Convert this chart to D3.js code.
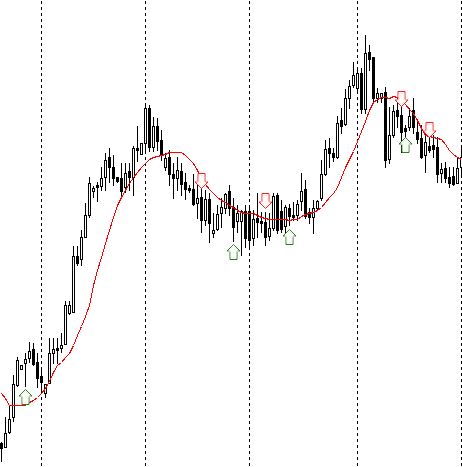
<!DOCTYPE html>
<html lang="en">
  <head>
    <meta charset="utf-8">
    <title>Candles</title>
    <script src="https://d3js.org/d3.v7.min.js"></script>
    <style type="text/css">
    html, body { margin: 0; padding: 0; background: #fff; overflow: hidden; }
    svg { display: block; }
    </style>
  </head>
  <body>
    <svg id="chart" width="462" height="467"></svg>

<script>
// candle values, oldest first
var opens = [24,20,35,50,82,98,104,109,118,105,
  91,74,84,114,119,119,123,154,155,211,
  208,230,252,276,282,281,290,310,300,290,
  289,280,296,290,319,313,324,359,320,341,
  327,300,310,293,289,296,285,279,278,264,
  270,247,268,234,238,254,259,276,260,246,
  246,256,256,229,249,246,245,231,239,272,
  256,241,259,252,252,266,278,255,250,259,
  269,293,319,314,310,347,343,369,382,379,
  394,358,415,410,369,369,375,308,332,357,
  352,339,340,357,335,329,312,321,322,320,
  294,299,290,291,284,300];
var closes = [19,34,48,83,107,102,108,116,103,89,
  85,83,114,118,117,122,162,162,211,204,
  230,252,284,279,280,289,307,300,289,286,
  276,294,290,319,317,324,359,320,341,326,
  312,309,293,289,297,283,278,277,263,269,
  247,268,244,237,253,260,273,259,240,254,
  256,229,227,248,245,244,230,239,271,237,
  238,260,251,250,263,276,251,250,259,266,
  293,318,314,310,344,341,369,381,392,394,
  358,414,408,369,374,374,307,332,356,351,
  335,336,351,340,328,310,325,317,318,293,
  298,289,284,283,299,310];
var highs = [25,50,62,92,110,102,114,125,124,114,
  100,83,129,129,129,134,166,166,221,221,
  237,264,290,281,285,300,314,319,312,290,
  304,304,304,321,341,324,363,362,350,349,
  337,314,317,304,310,304,294,282,293,282,
  284,277,274,254,262,269,274,282,269,262,
  257,262,262,257,274,255,255,254,274,274,
  267,262,263,265,267,294,287,259,267,267,
  307,327,329,319,351,359,378,387,405,399,
  399,432,422,410,379,374,380,360,362,369,
  365,342,359,369,345,342,334,334,332,330,
  304,305,300,300,309,322];
var lows = [6,20,34,46,81,98,81,105,102,80,
  74,70,84,104,104,115,123,153,155,202,
  202,230,250,270,266,277,277,285,282,285,
  272,275,277,272,306,313,317,316,316,317,
  307,297,282,269,277,272,268,275,262,249,
  235,242,225,230,237,240,254,252,226,235,
  212,220,220,222,230,235,222,227,237,234,
  235,232,242,247,247,257,249,244,234,257,
  267,292,300,306,309,334,342,359,380,377,
  354,354,397,365,365,365,300,304,330,340,
  315,325,337,334,324,309,295,315,310,285,
  285,285,280,282,284,290];

// red moving average, one value per candle
var average = [74,69,62,62,62,62,62,65,67,70,
  74,79,86,95,102,105,110,114,122,132,
  141,151,162,182,197,210,224,237,250,262,
  270,277,284,290,295,300,304,308,310,311,
  312,313,315,315,315,315,312,308,304,297,
  289,283,278,274,270,267,265,262,260,257,
  255,254,254,254,252,250,249,248,248,248,
  248,248,247,248,248,251,253,254,255,257,
  260,265,270,274,280,290,300,308,316,326,
  336,346,357,365,368,370,370,369,371,370,
  368,363,358,354,347,339,332,331,330,329,
  328,323,317,313,310,308];

// candles where a period separator falls
var separators = [10,36,62,89,115];

// signal arrows: candle index and level of the arrow tip
var buyIndex = [6,58,72,101];
var buyLevel = [78,223,238,330];
var sellIndex = [50,66,100,107];
var sellLevel = [279,259,361,330];

var width = 462, height = 467;
var svg = d3.select("#chart");

var x = d3.scaleLinear().domain([0, 115]).range([1.5, 461.5]);
var y = d3.scaleLinear().domain([0, 467]).range([467.5, 0.5]);

// separators sit under the candles
svg.append("g").selectAll("line")
  .data(separators)
  .enter().append("line")
  .attr("x1", function(d) { return x(d); })
  .attr("x2", function(d) { return x(d); })
  .attr("y1", 0)
  .attr("y2", height)
  .attr("stroke", "#000")
  .attr("stroke-dasharray", "3,3")
  .attr("stroke-dashoffset", 5)
  .attr("shape-rendering", "crispEdges");

var candles = svg.append("g").attr("shape-rendering", "crispEdges");

candles.selectAll("line")
  .data(opens)
  .enter().append("line")
  .attr("x1", function(d, i) { return x(i); })
  .attr("x2", function(d, i) { return x(i); })
  .attr("y1", function(d, i) { return y(highs[i]) - 0.5; })
  .attr("y2", function(d, i) { return y(lows[i]) + 0.5; })
  .attr("stroke", "#000");

candles.selectAll("rect")
  .data(opens)
  .enter().append("rect")
  .attr("x", function(d, i) { return x(i) - 1; })
  .attr("width", 2)
  .attr("y", function(d, i) { return y(Math.max(d, closes[i])); })
  .attr("height", function(d, i) { return Math.abs(d - closes[i]); })
  .attr("fill", function(d, i) { return closes[i] < d ? "#000" : "#fff"; })
  .attr("stroke", "#000");

var line = d3.line()
  .x(function(d, i) { return x(i); })
  .y(function(d) { return y(d); });

svg.append("path")
  .datum(average)
  .attr("d", line)
  .attr("fill", "none")
  .attr("stroke", "#f00")
  .attr("shape-rendering", "crispEdges");

// arrow outline relative to its tip, pointing up
var arrowShape = "M0,0 L6.5,6.5 L3.5,6.5 L3.5,15 L-3.5,15 L-3.5,6.5 L-6.5,6.5 Z";

function drawArrows(index, level, colour, inner, flip) {
  var group = svg.append("g");
  group.selectAll("path.outer")
    .data(index)
    .enter().append("path")
    .attr("class", "outer")
    .attr("d", arrowShape)
    .attr("transform", function(d, i) {
      return "translate(" + x(d) + "," + y(level[i]) + ") scale(1," + flip + ")";
    })
    .attr("fill", "#fff")
    .attr("stroke", colour)
    .attr("stroke-width", 1);
  // pale edge just inside the outline
  group.selectAll("path.inner")
    .data(index)
    .enter().append("path")
    .attr("class", "inner")
    .attr("d", arrowShape)
    .attr("transform", function(d, i) {
      return "translate(" + x(d) + "," + y(level[i]) + ") scale(1," + flip + ") translate(0,8) scale(0.75) translate(0,-8)";
    })
    .attr("fill", "#fff")
    .attr("stroke", inner)
    .attr("stroke-width", 0.7);
}

drawArrows(buyIndex, buyLevel, "#2f7d1c", "#dff5e2", 1);
drawArrows(sellIndex, sellLevel, "#ff1f1f", "#ffd0d0", -1);
</script>
  </body>
</html>
